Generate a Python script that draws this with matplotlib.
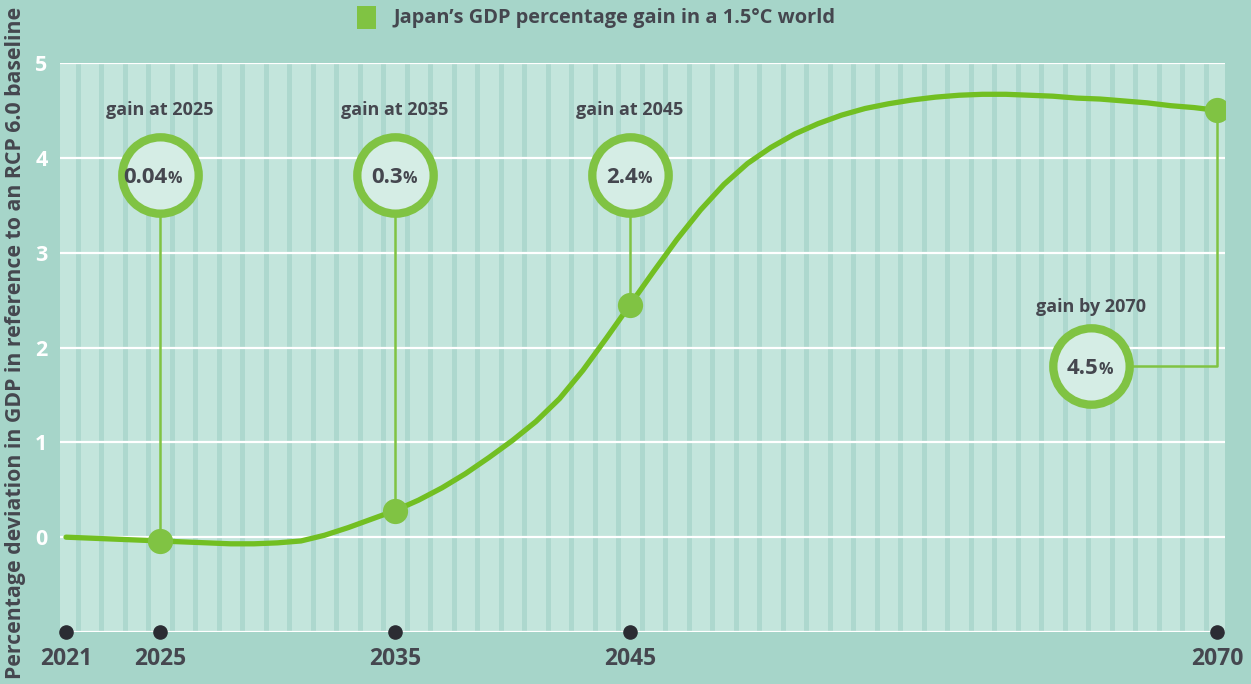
import matplotlib.pyplot as plt
from matplotlib.patches import Rectangle

# Japan's GDP gain in a 1.5C world, % deviation from RCP 6.0 baseline
years = list(range(2021, 2071))
gain = [0.0, -0.01, -0.02, -0.03, -0.04, -0.05, -0.06, -0.07, -0.07, -0.06,
        -0.04, 0.02, 0.1, 0.19, 0.28, 0.39, 0.52, 0.67, 0.84, 1.02,
        1.22, 1.46, 1.76, 2.1, 2.45, 2.8, 3.14, 3.45, 3.72, 3.94,
        4.11, 4.25, 4.36, 4.45, 4.52, 4.57, 4.61, 4.64, 4.66, 4.67,
        4.67, 4.66, 4.65, 4.63, 4.62, 4.6, 4.58, 4.55, 4.53, 4.5]

tick_years = [2021, 2025, 2035, 2045, 2070]
callout_years = [2025, 2035, 2045, 2070]
callout_values = [-0.04, 0.28, 2.45, 4.5]
callout_numbers = ['0.04', '0.3', '2.4', '4.5']
callout_titles = ['gain at 2025', 'gain at 2035', 'gain at 2045', 'gain by 2070']

title = 'Japan\u2019s GDP percentage gain in a 1.5\u00b0C world'
ylabel = 'Percentage deviation in GDP in reference to an RCP 6.0 baseline'

plt.rcParams['font.family'] = ['Open Sans', 'DejaVu Sans']

green = '#72bf22'
light_green = '#80c343'
dark = '#45474f'
outer_bg = '#a6d5c9'
inner_bg = '#c3e5dc'
stripe = '#add8ce'

fig = plt.figure(figsize=(12.51, 6.84), dpi=100)
fig.patch.set_facecolor(outer_bg)
ax = fig.add_axes([60 / 1251, 1 - 632 / 684, 1165 / 1251, 569 / 684])
ax.set_facecolor(inner_bg)
ax.set_xlim(2020.745, 2070.32)
ax.set_ylim(-1, 5)
for s in ax.spines.values():
    s.set_visible(False)

# vertical stripes
for y in range(2021, 2070):
    ax.axvspan(y + 0.41, y + 0.63, color=stripe, lw=0, zorder=0)

for v in range(-1, 6):
    ax.axhline(v, color='white', lw=1.6, zorder=1)

ax.set_yticks(range(0, 6))
ax.set_yticklabels([str(v) for v in range(0, 6)], color='white',
                   fontsize=15.5, fontweight='bold')
ax.set_xticks(tick_years)
ax.set_xticklabels([str(y) for y in tick_years], color=dark,
                   fontsize=16.5, fontweight='bold')
ax.tick_params(axis='y', length=0, pad=9)
ax.tick_params(axis='x', length=0, pad=11)

ax.scatter(tick_years, [-1] * len(tick_years), s=90, color='#2b2c33',
           zorder=5, clip_on=False)

ax.plot(years, gain, color=green, lw=3.8, zorder=3, solid_capstyle='round')

# callouts
circle_y = [3.82, 3.82, 3.82, 1.81]
circle_x = [2025, 2035, 2045, 2064.6]
title_y = [4.5, 4.5, 4.5, 2.43]
for i in range(4):
    cx, cy = circle_x[i], circle_y[i]
    px, py = callout_years[i], callout_values[i]
    if i < 3:
        ax.plot([cx, px], [cy, py], color=light_green, lw=1.8, zorder=4)
    else:
        ax.plot([cx, px, px], [cy, cy, py], color=light_green, lw=1.8, zorder=4)
    ax.scatter([px], [py], s=330, color=light_green, zorder=6, lw=0)
    ax.plot([cx], [cy], marker='o', markersize=55, markerfacecolor='#d5ede5',
            markeredgecolor=light_green, markeredgewidth=6, zorder=7)
    ax.annotate(callout_numbers[i], (cx, cy), xytext=(5.5, -5.8),
                textcoords='offset points', ha='right', va='baseline',
                fontsize=16, fontweight='bold', color=dark, zorder=8)
    ax.annotate('%', (cx, cy), xytext=(5.5, -5.8),
                textcoords='offset points', ha='left', va='baseline',
                fontsize=11.5, fontweight='bold', color=dark, zorder=8)
    ax.text(cx, title_y[i], callout_titles[i], ha='center', va='center',
            fontsize=13, fontweight='bold', color=dark, zorder=8)

# legend / title
fig.patches.append(Rectangle((357 / 1251, 1 - 29 / 684), 19 / 1251, 23 / 684,
                             transform=fig.transFigure, color=light_green,
                             lw=0))
fig.text(393 / 1251, 1 - 18 / 684, title, ha='left', va='center',
         fontsize=14.4, fontweight='bold', color=dark)
fig.text(16 / 1251, 1 - 343 / 684, ylabel, rotation=90, ha='center',
         va='center', fontsize=15.3, fontweight='bold', color=dark)

fig.savefig('out.png', dpi=100, facecolor=fig.get_facecolor())
